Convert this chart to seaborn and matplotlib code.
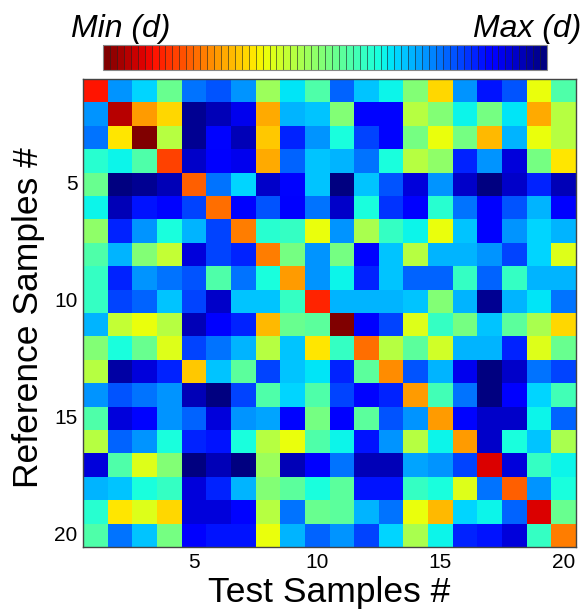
import numpy as np
import pandas as pd
import matplotlib
matplotlib.use("Agg")
import matplotlib.pyplot as plt
import seaborn as sns

sns.set_style("white")
plt.rcParams['font.family'] = ['Liberation Sans', 'DejaVu Sans']
plt.rcParams['text.color'] = 'black'
plt.rcParams['axes.labelcolor'] = 'black'
plt.rcParams['xtick.color'] = 'black'
plt.rcParams['ytick.color'] = 'black'

# Normalised distance d (0 = Min(d), 1 = Max(d)); rows = reference samples, cols = test samples
ref_01 = [0.12, 0.73, 0.66, 0.53, 0.76, 0.79, 0.73, 0.46, 0.65, 0.55, 0.78, 0.68, 0.64, 0.49, 0.32, 0.73, 0.85, 0.79, 0.37, 0.56]
ref_02 = [0.73, 0.05, 0.25, 0.32, 0.98, 0.95, 0.90, 0.28, 0.70, 0.68, 0.49, 0.87, 0.86, 0.43, 0.49, 0.63, 0.51, 0.65, 0.27, 0.43]
ref_03 = [0.75, 0.34, 0.00, 0.43, 0.98, 0.86, 0.94, 0.31, 0.84, 0.73, 0.62, 0.80, 0.86, 0.51, 0.37, 0.51, 0.29, 0.69, 0.37, 0.43]
ref_04 = [0.60, 0.63, 0.55, 0.17, 0.93, 0.89, 0.90, 0.28, 0.77, 0.68, 0.69, 0.75, 0.62, 0.43, 0.47, 0.83, 0.72, 0.92, 0.50, 0.33]
ref_05 = [0.53, 1.00, 0.97, 0.94, 0.20, 0.76, 0.66, 0.93, 0.87, 0.68, 1.00, 0.68, 0.79, 0.92, 0.73, 0.93, 1.00, 0.93, 0.84, 0.95]
ref_06 = [0.63, 0.94, 0.85, 0.87, 0.80, 0.21, 0.88, 0.79, 0.89, 0.75, 0.93, 0.62, 0.82, 0.89, 0.60, 0.75, 0.88, 0.79, 0.70, 0.88]
ref_07 = [0.47, 0.84, 0.73, 0.62, 0.70, 0.80, 0.22, 0.60, 0.58, 0.36, 0.73, 0.45, 0.59, 0.64, 0.37, 0.68, 0.89, 0.72, 0.66, 0.69]
ref_08 = [0.55, 0.70, 0.49, 0.42, 0.92, 0.80, 0.84, 0.22, 0.50, 0.72, 0.50, 0.86, 0.68, 0.43, 0.70, 0.70, 0.72, 0.80, 0.66, 0.39]
ref_09 = [0.59, 0.84, 0.73, 0.76, 0.79, 0.56, 0.76, 0.62, 0.26, 0.72, 0.63, 0.84, 0.68, 0.77, 0.77, 0.58, 0.77, 0.59, 0.69, 0.69]
ref_10 = [0.58, 0.80, 0.77, 0.68, 0.80, 0.93, 0.68, 0.68, 0.58, 0.13, 0.70, 0.70, 0.70, 0.68, 0.49, 0.69, 0.97, 0.70, 0.65, 0.76]
ref_11 = [0.70, 0.42, 0.37, 0.43, 0.94, 0.89, 0.83, 0.29, 0.53, 0.54, 0.00, 0.88, 0.80, 0.38, 0.59, 0.50, 0.68, 0.54, 0.45, 0.32]
ref_12 = [0.49, 0.62, 0.53, 0.39, 0.80, 0.76, 0.69, 0.43, 0.68, 0.33, 0.59, 0.21, 0.43, 0.54, 0.40, 0.70, 0.70, 0.83, 0.39, 0.53]
ref_13 = [0.43, 0.96, 0.92, 0.84, 0.31, 0.68, 0.54, 0.80, 0.68, 0.65, 0.84, 0.54, 0.24, 0.79, 0.70, 0.90, 1.00, 0.93, 0.75, 0.80]
ref_14 = [0.72, 0.79, 0.76, 0.72, 0.94, 1.00, 0.81, 0.56, 0.66, 0.55, 0.81, 0.87, 0.84, 0.25, 0.57, 0.76, 1.00, 0.89, 0.66, 0.57]
ref_15 = [0.56, 0.92, 0.86, 0.72, 0.77, 0.92, 0.72, 0.71, 0.86, 0.51, 0.88, 0.54, 0.79, 0.72, 0.25, 0.87, 0.93, 0.93, 0.63, 0.77]
ref_16 = [0.43, 0.77, 0.72, 0.62, 0.83, 0.85, 0.62, 0.43, 0.37, 0.56, 0.63, 0.85, 0.73, 0.43, 0.63, 0.26, 0.93, 0.62, 0.68, 0.45]
ref_17 = [0.92, 0.55, 0.39, 0.49, 1.00, 0.94, 1.00, 0.46, 0.94, 0.89, 0.76, 0.94, 0.94, 0.71, 0.72, 0.80, 0.08, 0.92, 0.59, 0.64]
ref_18 = [0.69, 0.68, 0.62, 0.58, 0.92, 0.84, 0.69, 0.49, 0.54, 0.62, 0.54, 0.85, 0.85, 0.58, 0.62, 0.39, 0.75, 0.19, 0.72, 0.62]
ref_19 = [0.60, 0.33, 0.38, 0.32, 0.92, 0.92, 0.87, 0.43, 0.75, 0.53, 0.54, 0.70, 0.76, 0.36, 0.29, 0.67, 0.64, 0.77, 0.09, 0.53]
ref_20 = [0.56, 0.75, 0.68, 0.51, 0.88, 0.85, 0.85, 0.37, 0.70, 0.77, 0.72, 0.80, 0.66, 0.45, 0.63, 0.84, 0.85, 0.92, 0.59, 0.23]

rows = [ref_01, ref_02, ref_03, ref_04, ref_05, ref_06, ref_07, ref_08, ref_09, ref_10,
        ref_11, ref_12, ref_13, ref_14, ref_15, ref_16, ref_17, ref_18, ref_19, ref_20]
sample_ids = list(range(1, 21))
tick_labels = ["5", "10", "15", "20"]
tick_ids = [5, 10, 15, 20]

df = pd.DataFrame(rows, index=sample_ids, columns=sample_ids)

cmap = plt.get_cmap('jet_r', 64)

fig = plt.figure(figsize=(5.82, 6.13), dpi=100)
ax = fig.add_axes([83/582, 1-547/613, 493/582, 468/613])
cax = fig.add_axes([103/582, 1-70/613, 444/582, 25/613])

sns.heatmap(df, ax=ax, cmap=cmap, vmin=0, vmax=1, cbar=True, cbar_ax=cax,
            cbar_kws={'orientation': 'horizontal', 'drawedges': True})

# colorbar styling
cb = ax.collections[0].colorbar
cb.set_ticks([])
cb.outline.set_edgecolor('#888888')
cb.outline.set_linewidth(0.8)
cb.dividers.set_color('#222222')
cb.dividers.set_linewidth(0.6)
cb.dividers.set_alpha(0.7)

# ticks
pos = [i - 0.5 for i in tick_ids]
ax.set_xticks(pos)
ax.set_xticklabels(tick_labels, rotation=0)
ax.set_yticks(pos)
ax.set_yticklabels(tick_labels, rotation=0)
ax.tick_params(axis='both', which='both', direction='in', length=5, width=0.9,
               color='#333333', labelcolor='black', labelsize=15, pad=4,
               top=True, right=True, bottom=True, left=True)
for s in ax.spines.values():
    s.set_visible(True)
    s.set_color('#444444')
    s.set_linewidth(1.0)

ax.set_xlabel("Test Samples #", fontsize=25.5, labelpad=3, color='black')
ax.set_ylabel("Reference Samples #", fontsize=25.5, color='black')
ax.yaxis.set_label_coords(-0.078, 0.49)

fig.text(121/582, 1-37/613, "Min (d)", fontsize=23, style='italic', ha='center', va='baseline', color='black')
fig.text(527/582, 1-37/613, "Max (d)", fontsize=23, style='italic', ha='center', va='baseline', color='black')

fig.savefig("out.png", dpi=100)
